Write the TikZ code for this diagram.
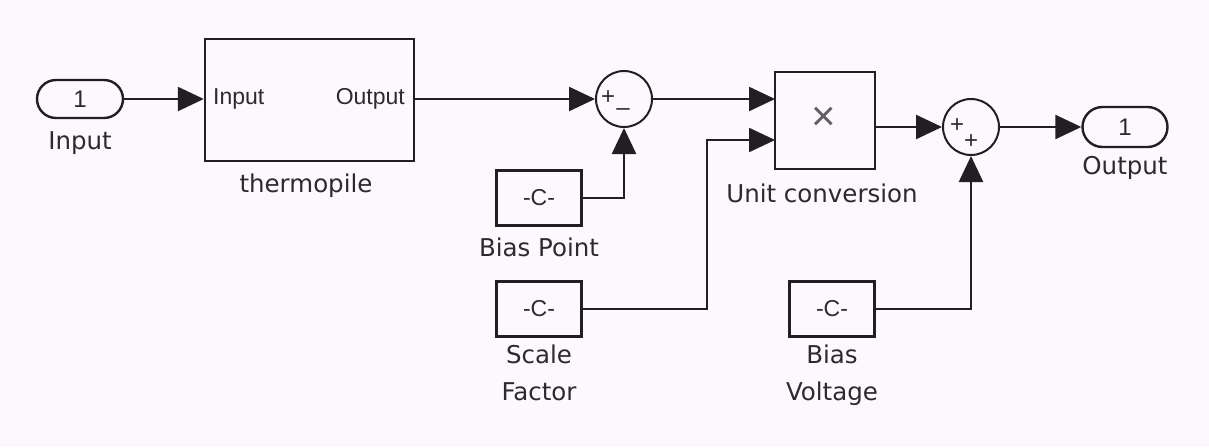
\documentclass[tikz,border=0pt]{standalone}
\usepackage{fontspec}
\setmainfont{Liberation Sans}
\newfontfamily\lblfont{DejaVu Sans}
\usetikzlibrary{arrows.meta,calc}
\definecolor{bg}{RGB}{252,248,252}
\definecolor{ink}{RGB}{34,30,34}
\definecolor{txt}{RGB}{45,41,45}
\tikzset{
  blk/.style={draw=ink,line width=2.4pt,fill=bg,inner sep=0pt},
  port/.style={blk,rounded corners=19pt,minimum width=86pt,minimum height=38pt,font=\fontsize{24}{26}\selectfont,text=txt},
  cbox/.style={blk,minimum width=85pt,minimum height=55pt,font=\fontsize{23}{26}\selectfont,text=txt},
  sumc/.style={blk,circle,line width=2pt,minimum size=56pt},
  lbl/.style={font=\lblfont\fontsize{24.5}{37}\selectfont,text=txt,align=center,inner sep=0pt},
  intxt/.style={font=\fontsize{23}{26}\selectfont,text=txt,inner sep=0pt},
  sgn/.style={font=\fontsize{24}{24}\selectfont,text=txt,inner sep=0pt},
  wire/.style={draw=ink,line width=2.4pt},
  arr/.style={wire,-{Triangle[length=26pt,width=24pt]}}
}
\begin{document}
\begin{tikzpicture}[x=1pt,y=-1pt]
\fill[bg] (0,0) rectangle (1209,447);
\useasboundingbox (0,0) rectangle (1209,447);
% blocks
\node[port] (in) at (80,99) {1};
\node[lbl] (inlbl) at (80,143) {Input};
\node[blk,minimum width=209pt,minimum height=122pt] (thermo) at (309.5,100) {};
\node[intxt,anchor=west] (thin) at (213,99) {Input};
\node[intxt,anchor=east] (thout) at (405,99) {Output};
\node[lbl] (thlbl) at (306,186) {thermopile};
\node[sumc] (sum1) at (624,99) {};
\node[sgn] (s1p) at (608,98) {+};
\node[sgn] (s1m) at (623,112) {\textendash};
\node[cbox] (bp) at (539,198) {-C-};
\node[lbl] (bplbl) at (539,247) {Bias Point};
\node[blk,minimum width=100pt,minimum height=97pt] (prod) at (825,120.5) {};
\node[font=\fontsize{42}{42}\selectfont,text=txt!75,inner sep=0pt] (times) at (824,119) {×};
\node[lbl] (uclbl) at (822,193) {Unit conversion};
\node[cbox] (sf) at (539,309) {-C-};
\node[lbl,anchor=north] (sflbl) at (539,345) {Scale\\Factor};
\node[cbox] (bv) at (832,309) {-C-};
\node[lbl,anchor=north] (bvlbl) at (832,345) {Bias\\Voltage};
\node[sumc] (sum2) at (971,127) {};
\node[sgn] (s2a) at (957,126) {+};
\node[sgn] (s2b) at (971,142) {+};
\node[port,minimum width=85pt,minimum height=40pt,rounded corners=20pt] (out) at (1125,127) {1};
\node[lbl] (outlbl) at (1125,168) {Output};
% ports
\coordinate (pin1) at (775,99);
\coordinate (pin2) at (775,140);
\coordinate (pout) at (875,127);
\coordinate (sfbend) at (707,309);
% wires
\draw[arr] (in.east) -- (in.east -| thermo.west);
\draw[arr] (thermo.east |- sum1.west) -- (sum1.west);
\draw[arr] (bp.east) -| (sum1.south);
\draw[arr] (sum1.east) -- (pin1);
\draw[arr] (sf.east) -- (sfbend) |- (pin2);
\draw[arr] (pout) -- (sum2.west);
\draw[arr] (bv.east) -| (sum2.south);
\draw[arr] (sum2.east) -- (out.west);
\end{tikzpicture}
\end{document}
